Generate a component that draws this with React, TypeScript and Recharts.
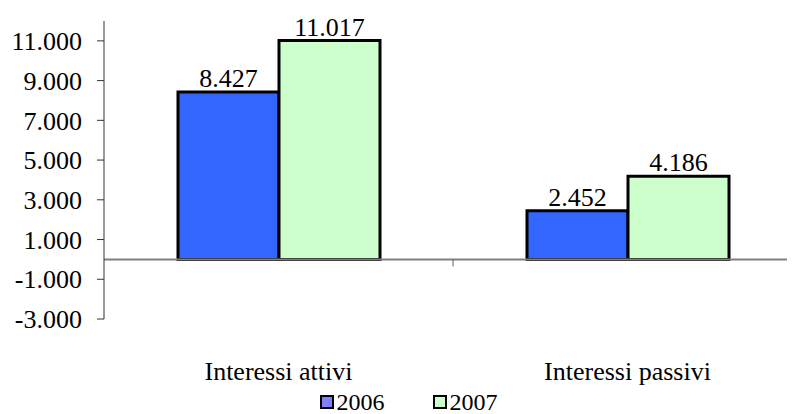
import React from "react";
import { BarChart, Bar, XAxis, YAxis, Legend, ReferenceLine, LabelList } from "recharts";

// values
const categories = ["Interessi attivi", "Interessi passivi"];
const values2006 = [8427, 2452];
const values2007 = [11017, 4186];
const yTicks = [-3000, -1000, 1000, 3000, 5000, 7000, 9000, 11000];
const yDomain = [-3000, 12000];

const series = [
  { key: "v2006", name: "2006", fill: "#3366FF", swatch: "#8080FF" },
  { key: "v2007", name: "2007", fill: "#CCFFCC", swatch: "#CCFFCC" },
];

const data = categories.map((name, i) => ({
  name,
  v2006: values2006[i],
  v2007: values2007[i],
}));

const FONT = '"Liberation Serif", "Times New Roman", serif';

// Italian style: dot as thousands separator
const fmt = (v: number) => {
  const s = String(Math.abs(v)).replace(/\B(?=(\d{3})+(?!\d))/g, ".");
  return v < 0 ? "-" + s : s;
};

// zero line with small ticks at the category boundaries
const ZeroLine = (props: any) => {
  const { x1, y1, x2, y2 } = props;
  const step = (x2 - x1) / categories.length;
  return (
    <g>
      <line x1={x1} y1={y1} x2={x2} y2={y2} stroke="#808080" strokeWidth={2} />
      {categories.slice(1).map((_, i) => {
        const x = x1 + step * (i + 1);
        return <line key={i} x1={x} x2={x} y1={y1} y2={y1 + 7} stroke="#606060" strokeWidth={1} />;
      })}
    </g>
  );
};

const CategoryTick = ({ x, y, payload }: any) => (
  <text x={x} y={y + 61} textAnchor="middle" fontFamily={FONT} fontSize={26} fill="#000">
    {payload.value}
  </text>
);

const LegendContent = () => (
  <div
    style={{
      display: "flex",
      justifyContent: "center",
      alignItems: "center",
      height: 24,
      lineHeight: "24px",
      paddingLeft: 7,
      fontFamily: FONT,
      fontSize: 24,
      color: "#000",
    }}
  >
    {series.map((s, i) => (
      <div key={s.key} style={{ display: "flex", alignItems: "center", marginLeft: i ? 48 : 0 }}>
        <span style={{ width: 10, height: 10, border: "2px solid #000", background: s.swatch, marginRight: 3 }} />
        <span>{s.name}</span>
      </div>
    ))}
  </div>
);

export default function App() {
  return (
    <div style={{ width: 787, height: 406, overflow: "hidden" }}>
      <BarChart
        width={800}
        height={406}
        data={data}
        margin={{ top: 13, right: 6, left: 0, bottom: 0 }}
        barCategoryGap={74}
        barGap={0}
      >
        <XAxis
          dataKey="name"
          axisLine={false}
          tickLine={false}
          tickSize={0}
          tickMargin={0}
          height={71}
          interval={0}
          tick={<CategoryTick />}
        />
        <YAxis
          width={96}
          domain={yDomain}
          ticks={yTicks}
          interval={0}
          tickFormatter={fmt}
          axisLine={{ stroke: "#333", strokeWidth: 1 }}
          tickLine={{ stroke: "#333", strokeWidth: 1 }}
          tickSize={7}
          tickMargin={15}
          tick={{ fontFamily: FONT, fontSize: 26, fill: "#000" }}
        />
        <ReferenceLine y={0} shape={<ZeroLine />} />
        {series.map((s) => (
          <Bar
            key={s.key}
            dataKey={s.key}
            name={s.name}
            fill={s.fill}
            stroke="#000"
            strokeWidth={3}
            isAnimationActive={false}
          >
            <LabelList
              dataKey={s.key}
              position="top"
              offset={5}
              formatter={(v: any) => fmt(Number(v))}
              style={{ fontFamily: FONT, fontSize: 26, fill: "#000" }}
            />
          </Bar>
        ))}
        <Legend verticalAlign="bottom" align="center" content={<LegendContent />} />
      </BarChart>
    </div>
  );
}
